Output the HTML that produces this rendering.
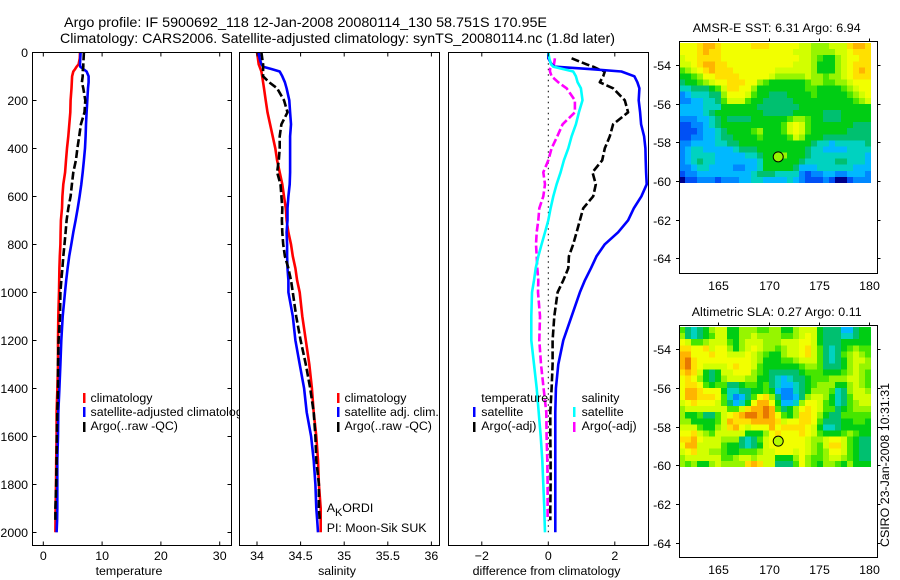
<!DOCTYPE html>
<html lang="en">
<head>
<meta charset="utf-8">
<title>Argo profile 5900692_118</title>
<style>
html,body{margin:0;padding:0;background:#fff;width:900px;height:580px;overflow:hidden}
svg{display:block}
text{font-family:"Liberation Sans",sans-serif;font-size:12.4px;fill:#000}
.t{font-size:14px}
.frame{fill:none;stroke:#000;stroke-width:1}
</style>
</head>
<body>
<svg id="chart" width="900" height="580" viewBox="0 0 900 580" xmlns="http://www.w3.org/2000/svg">
<defs><clipPath id="clip-p1"><rect x="0" y="0" width="239" height="580"/></clipPath></defs>
<text class="t" x="64" y="27" textLength="483" lengthAdjust="spacingAndGlyphs">Argo profile: IF 5900692_118 12-Jan-2008 20080114_130 58.751S 170.95E</text>
<text class="t" x="60" y="43" textLength="555" lengthAdjust="spacingAndGlyphs">Climatology: CARS2006. Satellite-adjusted climatology: synTS_20080114.nc (1.8d later)</text>
<g id="plots"></g>
<g id="maps"></g>
<g id="legends">
<g clip-path="url(#clip-p1)">
<rect x="83" y="393" width="2.5" height="10" fill="#f00"/>
<rect x="83" y="407" width="2.5" height="10" fill="#00f"/>
<rect x="83" y="422" width="2.5" height="10" fill="#000"/>
<text x="90.5" y="402">climatology</text>
<text x="90.5" y="416">satellite-adjusted climatology</text>
<text x="90.5" y="430">Argo(..raw -QC)</text>
</g>
<g>
<rect x="337" y="393" width="2.5" height="10" fill="#f00"/>
<rect x="337" y="407" width="2.5" height="10" fill="#00f"/>
<rect x="337" y="422" width="2.5" height="10" fill="#000"/>
<text x="344.5" y="402">climatology</text>
<text x="344.5" y="416">satellite adj. clim.</text>
<text x="344.5" y="430">Argo(..raw -QC)</text>
</g>
<g>
<text x="481.3" y="402">temperature</text>
<rect x="473" y="407" width="2.5" height="10" fill="#00f"/>
<rect x="473" y="422" width="2.5" height="10" fill="#000"/>
<text x="481.3" y="416">satellite</text>
<text x="481.3" y="430">Argo(-adj)</text>
<text x="581.6" y="402">salinity</text>
<rect x="573" y="407" width="2.5" height="10" fill="#0ff"/>
<rect x="573" y="422" width="2.5" height="10" fill="#f0f"/>
<text x="581.6" y="416">satellite</text>
<text x="581.6" y="430">Argo(-adj)</text>
</g>
</g>
<text x="326.7" y="512">A<tspan dy="4" font-size="11">K</tspan><tspan dy="-4">ORDI</tspan></text>
<text x="326.7" y="532">PI: Moon-Sik SUK</text>
<text transform="translate(889,547) rotate(-90)" textLength="164" lengthAdjust="spacingAndGlyphs">CSIRO 23-Jan-2008 10:31:31</text>
</svg>
<script>
var depths = [0,25,50,60,70,80,100,125,150,200,250,300,350,400,450,500,550,600,650,700,750,800,850,900,950,1000,1100,1200,1300,1400,1500,1600,1700,1800,1900,1950,2000];
var depthTicks = [0,200,400,600,800,1000,1200,1400,1600,1800,2000];

var tempTicks = [0,10,20,30];
var tempClim = [6.24,6.2,6.0,5.67,5.4,5.1,4.9,4.85,4.8,4.65,4.6,4.43,4.26,4.03,3.86,3.7,3.4,3.24,3.18,3.0,2.95,2.9,2.8,2.73,2.7,2.67,2.55,2.5,2.5,2.4,2.27,2.27,2.2,2.16,2.1,2.08,2.05];
var tempSat = [6.35,6.3,6.24,6.3,6.8,7.37,7.7,7.7,7.6,7.48,7.37,7.26,7.2,7.09,6.9,6.7,6.46,6.18,5.85,5.5,5.1,4.76,4.4,4.14,3.9,3.69,3.3,3.06,2.9,2.73,2.55,2.5,2.38,2.38,2.38,2.35,2.27];
var tempArgo = [6.9,6.85,6.8,6.8,6.75,6.7,6.7,6.57,6.8,7.15,7.0,6.4,6.1,5.8,5.55,5.1,4.87,4.65,4.25,3.97,3.8,3.6,3.4,3.24,3.06,2.9,2.84,2.6,2.5,2.5,2.38,2.3,2.27,2.2,2.05,2.05,null];

var salTicks = [34,34.5,35,35.5,36];
var salClim = [34.0,34.01,34.02,34.03,34.04,34.05,34.06,34.07,34.08,34.1,34.12,34.15,34.18,34.21,34.23,34.26,34.29,34.31,34.33,34.34,34.36,34.39,34.41,34.44,34.46,34.49,34.52,34.56,34.6,34.63,34.65,34.68,34.7,34.71,34.73,34.73,34.73];
var salSat = [34.02,34.03,34.05,34.07,34.17,34.26,34.29,34.32,34.34,34.37,34.38,34.39,34.38,34.38,34.38,34.38,34.375,34.36,34.35,34.35,34.34,34.345,34.345,34.35,34.36,34.36,34.41,34.44,34.49,34.54,34.57,34.62,34.65,34.67,34.68,34.69,34.7];
var salArgo = [34.05,34.06,34.07,34.07,34.07,34.07,34.07,34.14,34.23,34.31,34.35,34.28,34.26,34.26,34.25,34.23,34.27,34.28,34.29,34.285,34.29,34.3,34.32,34.36,34.39,34.41,34.45,34.5,34.56,34.61,34.65,34.67,34.68,34.71,34.71,34.72,null];

var diffTicks = [-2,0,2];
var diffTempSat = [0,0,0.1,0.2,1.25,2.2,2.59,2.68,2.74,2.72,2.76,2.79,2.88,2.92,2.93,2.94,2.96,2.8,2.57,2.4,2.1,1.7,1.45,1.28,1.1,0.95,0.7,0.45,0.3,0.23,0.21,0.21,0.21,0.21,0.21,0.21,0.21];
var diffTempArgo = [null,0.7,1.15,1.35,1.5,1.7,1.65,1.55,1.95,2.3,2.4,1.95,1.85,1.7,1.62,1.33,1.43,1.35,1.05,0.95,0.85,0.75,0.62,0.6,0.45,0.28,0.18,0.13,0.13,0.1,0.06,0.06,0.07,0.07,0.06,0.06,null];
var diffSalSat = [0,0.03,0.08,0.15,0.45,0.75,0.83,0.88,0.98,1.03,0.92,0.83,0.7,0.6,0.47,0.37,0.25,0.15,0.07,0,-0.1,-0.2,-0.3,-0.38,-0.43,-0.49,-0.51,-0.51,-0.43,-0.35,-0.29,-0.23,-0.18,-0.15,-0.12,-0.11,-0.1];
var diffSalArgo = [null,0.2,0.17,0.1,0.05,0.05,0.1,0.3,0.55,0.8,0.8,0.43,0.27,0.1,0,-0.15,-0.1,-0.15,-0.27,-0.3,-0.35,-0.37,-0.35,-0.33,-0.3,-0.31,-0.25,-0.27,-0.22,-0.14,-0.06,-0.05,-0.03,-0.02,-0.02,-0.02,null];
var zeroLine = [0,2000];

var lonTicks = [165,170,175,180];
var latTicks = [-54,-56,-58,-60,-62,-64];
var floatLon = 170.95;
var floatLat = -58.751;

var sstGrid = [
[10,10,10,11,12,12,11,10,10,10,10,10,11,11,11,10,10,10,10,10,9,9,8,8,8,9,9,9,11,12,12,11],
[10,10,10,11,12,11,11,10,10,10,10,10,10,10,10,10,10,10,10,9,9,9,8,8,8,8,9,9,10,11,11,11],
[9,10,10,11,11,11,11,10,10,10,10,10,10,10,10,10,10,10,10,10,9,9,8,7,6,6,8,9,10,10,11,11],
[9,9,10,11,12,12,11,11,10,10,10,10,10,10,10,10,10,10,10,9,9,9,8,6,6,6,8,9,10,11,11,11],
[7,8,9,10,11,12,11,11,11,10,10,10,10,10,10,10,9,9,9,9,9,9,8,6,6,6,8,9,10,11,12,11],
[6,6,7,8,10,10,11,11,11,11,10,10,10,10,10,9,8,8,8,8,8,9,8,8,7,8,8,9,10,11,11,11],
[5,6,6,7,8,9,10,10,11,11,11,10,10,8,7,6,6,6,6,6,6,7,8,8,7,7,8,8,9,10,10,10],
[4,4,5,5,5,6,7,9,11,11,10,10,8,6,6,6,6,6,6,6,6,7,7,6,6,6,6,7,8,9,10,10],
[2,3,4,4,4,5,5,8,10,10,10,9,7,6,6,5,5,5,6,6,6,6,7,6,6,6,6,6,7,8,9,10],
[2,2,3,3,4,4,5,7,9,9,9,7,6,6,5,5,5,5,5,6,6,6,6,6,6,6,6,6,6,7,8,9],
[3,3,3,3,4,4,4,6,6,6,6,6,6,5,5,5,5,5,5,5,6,6,6,6,6,6,6,6,6,6,6,6],
[3,3,3,3,4,5,6,6,6,6,6,6,6,6,5,5,5,5,5,6,6,6,6,6,5,5,5,6,6,6,6,6],
[2,2,2,3,3,4,5,6,5,5,5,5,6,6,6,6,6,6,7,8,8,7,6,6,5,5,5,6,6,6,6,6],
[1,1,2,2,3,4,5,6,6,6,6,6,6,6,6,6,6,7,9,10,9,7,6,6,6,6,6,6,6,5,5,5],
[1,1,1,2,3,3,4,5,6,6,6,6,7,8,6,6,6,7,9,10,9,7,6,6,6,6,6,6,5,5,5,5],
[1,1,2,2,3,3,4,5,5,6,6,6,6,7,6,6,6,6,7,9,8,6,6,6,5,5,5,5,5,5,5,5],
[2,2,3,3,3,3,4,4,5,5,6,6,6,6,6,6,6,6,6,6,6,6,5,4,4,3,4,4,4,4,4,5],
[2,3,4,4,3,3,3,3,3,4,5,5,5,6,6,6,6,6,6,6,6,5,4,4,3,3,3,3,4,4,4,4],
[2,3,4,4,4,4,3,3,3,3,3,4,4,5,6,6,7,8,6,6,6,5,4,4,4,4,4,4,4,4,4,3],
[2,3,4,5,4,4,3,3,3,3,3,3,3,4,6,6,6,6,6,6,5,4,4,4,4,4,5,5,4,4,4,3],
[2,2,3,4,4,3,3,3,3,2,2,3,3,4,6,6,6,6,6,5,3,3,3,4,4,4,4,4,4,3,3,3],
[1,2,2,3,3,3,3,3,3,3,3,3,4,5,5,5,4,4,4,4,2,1,2,2,3,3,2,2,3,3,3,2],
[0,1,1,2,2,2,1,2,2,2,3,3,4,4,3,3,3,3,4,3,2,1,1,1,2,1,0,0,1,2,2,2]
];
var slaGrid = [
[7,5,4,5,6,8,9,9,6,6,8,8,8,7,7,8,8,6,6,8,9,9,9,6,5,5,5,3,3,5,6,6],
[8,5,4,5,6,7,9,9,6,6,8,8,9,8,8,8,8,7,7,8,9,10,9,6,5,5,5,4,4,5,6,6],
[10,9,7,7,8,9,9,9,7,6,8,9,9,9,8,8,8,9,9,9,10,10,9,6,5,5,5,6,6,6,6,6],
[11,11,10,10,11,9,10,10,8,6,8,9,10,9,8,8,7,8,9,9,10,11,9,7,5,4,5,6,7,8,7,7],
[12,12,10,10,10,11,10,10,9,9,9,10,9,8,7,6,6,8,9,9,10,11,9,7,5,4,5,7,8,9,8,7],
[12,13,11,10,10,10,10,10,10,10,10,10,9,8,6,6,6,7,7,8,9,9,9,7,5,4,5,6,8,9,9,8],
[12,13,11,10,9,9,9,9,10,11,10,10,9,7,6,6,6,6,6,6,7,8,8,7,5,5,5,6,8,9,8,8],
[11,12,11,9,6,5,6,9,9,10,10,10,8,7,6,5,5,5,5,5,6,7,7,7,6,6,6,7,8,9,8,7],
[10,11,10,8,6,5,6,8,9,9,9,8,8,6,6,5,4,3,4,5,5,6,7,7,7,8,8,8,9,9,8,7],
[10,11,11,10,7,6,7,7,5,5,6,7,7,6,7,5,4,3,3,4,5,6,7,8,8,8,6,6,8,9,8,7],
[10,12,12,11,10,10,10,6,4,4,5,5,6,6,7,6,3,2,2,4,5,6,8,8,8,7,4,5,8,9,9,8],
[10,12,12,11,11,11,10,7,4,2,3,5,7,10,11,8,5,2,2,3,5,8,9,9,8,6,4,5,7,9,9,9],
[9,10,11,10,10,10,9,7,5,3,4,6,10,12,12,10,6,3,3,4,8,10,10,9,7,6,4,5,7,8,9,9],
[8,9,9,9,9,9,9,9,7,7,9,11,12,12,13,12,7,5,6,8,10,11,10,9,7,7,5,6,7,8,8,8],
[8,6,6,7,5,5,7,9,10,11,12,13,13,12,13,12,10,7,6,8,11,11,10,8,6,5,5,7,7,7,7,7],
[8,8,6,6,6,6,7,9,12,11,11,11,12,12,12,12,11,9,10,10,11,11,10,7,5,5,5,6,6,7,7,6],
[9,9,9,7,6,6,8,9,11,12,10,9,10,10,10,12,10,11,11,11,11,10,9,6,4,4,5,6,6,6,6,6],
[10,10,11,9,8,7,9,9,9,9,9,6,6,6,8,10,11,10,10,10,11,10,9,7,6,6,6,7,8,7,6,6],
[11,11,12,10,9,9,9,8,8,8,5,4,5,7,9,10,10,10,10,10,10,9,8,8,9,10,10,9,7,6,5,5],
[10,12,12,9,9,9,9,7,6,6,5,4,5,6,9,10,10,10,10,10,10,9,8,7,9,11,11,9,7,6,5,5],
[9,10,11,9,9,8,8,7,6,6,7,7,7,8,9,9,10,10,10,9,10,9,8,7,8,10,10,9,7,6,5,5],
[8,9,9,9,9,9,9,7,7,8,9,9,8,9,9,9,6,6,6,8,10,8,7,7,8,9,9,8,7,6,5,5],
[8,7,8,6,6,8,9,8,8,8,8,11,12,11,9,9,5,5,5,7,10,8,7,6,8,8,7,6,8,6,6,6]
];
var levelColors = ['#00008c','#0050f5','#0088ff','#00b8ff','#00d2c0','#00c070','#00cd14','#46e600','#96f500','#d2ff00','#f2ff00','#ffe000','#ffb400','#e87800'];

var NS = 'http://www.w3.org/2000/svg';
function node(parent, tag, name, attrs) {
  var el = document.createElementNS(NS, tag);
  
  
  for (var k in attrs) el.setAttribute(k, attrs[k]);
  parent.appendChild(el);
  return el;
}
function label(parent, name, x, y, str, anchor) {
  var el = node(parent, 'text', name, {x: x, y: y, 'text-anchor': anchor || 'middle'});
  el.textContent = str;
  return el;
}
function depthY(d) { return 52.3 + 0.24 * d; }

function profile(parent, name, values, xf, color, dash, width) {
  var pts = [];
  for (var i = 0; i < depths.length; i++) {
    if (values[i] === null || values[i] === undefined) continue;
    pts.push(xf(values[i]).toFixed(1) + ',' + depthY(depths[i]).toFixed(1));
  }
  var a = {points: pts.join(' '), fill: 'none', stroke: color, 'stroke-width': width || 2.6, 'stroke-linejoin': 'round'};
  if (dash) a['stroke-dasharray'] = dash;
  node(parent, 'polyline', name, a);
}

function panel(cfg) {
  var g = node(document.getElementById('plots'), 'g', cfg.name, {});
  node(g, 'rect', cfg.name + '-background', {x: cfg.x0, y: 52.5, width: cfg.x1 - cfg.x0, height: 493, fill: '#fff', stroke: 'none'});
  cfg.draw(g);
  node(g, 'rect', cfg.name + '-frame', {x: cfg.x0, y: 52.5, width: cfg.x1 - cfg.x0, height: 493, 'class': 'frame'});
  cfg.ticks.forEach(function (t) {
    var x = cfg.xf(t);
    node(g, 'line', 'x-tick-top', {x1: x, x2: x, y1: 52.5, y2: 56.5, stroke: '#000'});
    node(g, 'line', 'x-tick-bottom', {x1: x, x2: x, y1: 541.5, y2: 545.5, stroke: '#000'});
    label(g, 'x-tick-label', x, 560, String(t).replace('-', '\u2212'));
  });
  label(g, 'x-axis-title', cfg.titleX, 575, cfg.title);
}

var xTemp = function (t) { return 43.3 + 5.88 * t; };
var xSal = function (s) { return 257 + 87.2 * (s - 34); };
var xDiff = function (d) { return 548.3 + 33.25 * d; };

panel({name: 'temperature-panel', x0: 32.5, x1: 231.5, xf: xTemp, ticks: tempTicks, title: 'temperature', titleX: 129, draw: function (g) {
  profile(g, 'temperature-climatology-line', tempClim, xTemp, '#f00');
  profile(g, 'temperature-satellite-line', tempSat, xTemp, '#00f');
  profile(g, 'temperature-argo-line', tempArgo, xTemp, '#000', '8 3');
  depthTicks.forEach(function (d) {
    var y = Math.round(depthY(d)) + 0.5;
    node(g, 'line', 'y-tick-left', {x1: 32.5, x2: 36.5, y1: y, y2: y, stroke: '#000'});
    node(g, 'line', 'y-tick-right', {x1: 227.5, x2: 231.5, y1: y, y2: y, stroke: '#000'});
    label(g, 'y-tick-label', 28, y + 4.5, String(d), 'end');
  });
}});
panel({name: 'salinity-panel', x0: 239.5, x1: 439.5, xf: xSal, ticks: salTicks, title: 'salinity', titleX: 337, draw: function (g) {
  profile(g, 'salinity-climatology-line', salClim, xSal, '#f00');
  profile(g, 'salinity-satellite-line', salSat, xSal, '#00f');
  profile(g, 'salinity-argo-line', salArgo, xSal, '#000', '8 3');
}});
panel({name: 'difference-panel', x0: 448.5, x1: 648.5, xf: xDiff, ticks: diffTicks, title: 'difference from climatology', titleX: 546.5, draw: function (g) {
  var zx = xDiff(0);
  node(g, 'line', 'zero-reference-line', {x1: zx, x2: zx, y1: depthY(zeroLine[0]), y2: depthY(zeroLine[1]), stroke: '#000', 'stroke-dasharray': '1.5 4'});
  profile(g, 'difference-salinity-argo-line', diffSalArgo, xDiff, '#f0f', '8 3');
  profile(g, 'difference-temperature-argo-line', diffTempArgo, xDiff, '#000', '8 3');
  profile(g, 'difference-temperature-satellite-line', diffTempSat, xDiff, '#00f');
  profile(g, 'difference-salinity-satellite-line', diffSalSat, xDiff, '#0ff');
}});

function mapPanel(cfg) {
  var g = node(document.getElementById('maps'), 'g', cfg.name, {});
  var lonX = function (lon) { return 718.3 + 10.07 * (lon - 165); };
  var latY = function (lat) { return cfg.y54 + 19.33 * (-54 - lat); };
  var dLon = 6 / 10.07, dLat = 6.087 / 19.33, lon0 = 161.1, lat0 = -54 + (cfg.y54 - cfg.imgTop) / 19.33;
  cfg.grid.forEach(function (row, r) {
    row.forEach(function (v, c) {
      var x = lonX(lon0 + c * dLon), y = latY(lat0 - r * dLat);
      node(g, 'rect', 'heatmap-cell', {x: x.toFixed(2), y: y.toFixed(2), width: 6.05, height: 6.3, fill: levelColors[v], 'shape-rendering': 'crispEdges'});
    });
  });
  node(g, 'rect', cfg.name + '-frame', {x: 679.5, y: cfg.top, width: 198, height: cfg.bottom - cfg.top, 'class': 'frame'});
  lonTicks.forEach(function (lon) {
    var x = Math.round(lonX(lon)) + 0.5;
    node(g, 'line', 'lon-tick', {x1: x, x2: x, y1: cfg.top - 3, y2: cfg.top, stroke: '#000'});
    label(g, 'lon-tick-label', x, cfg.labelY, String(lon));
  });
  latTicks.forEach(function (lat) {
    var y = Math.round(latY(lat)) + 0.5;
    node(g, 'line', 'lat-tick-left', {x1: 676, x2: 679.5, y1: y, y2: y, stroke: '#000'});
    node(g, 'line', 'lat-tick-right', {x1: 877.5, x2: 880.5, y1: y, y2: y, stroke: '#000'});
    label(g, 'lat-tick-label', 671, y + 4.5, String(lat), 'end');
  });
  node(g, 'circle', 'float-position-marker', {cx: lonX(floatLon), cy: latY(floatLat), r: 5, fill: cfg.marker, stroke: '#000', 'stroke-width': 1});
  var title = label(g, 'map-title', 776.7, cfg.titleY, cfg.title);
  title.setAttribute('textLength', cfg.titleWidth);
  title.setAttribute('lengthAdjust', 'spacing');
}
mapPanel({name: 'sst-map', grid: sstGrid, top: 41.5, bottom: 273.5, y54: 65, imgTop: 43, labelY: 290, titleY: 32, title: 'AMSR-E SST: 6.31 Argo: 6.94', titleWidth: 168, marker: '#96f500'});
mapPanel({name: 'sla-map', grid: slaGrid, top: 325.5, bottom: 557.5, y54: 349.3, imgTop: 327, labelY: 574, titleY: 316, title: 'Altimetric SLA: 0.27 Argo: 0.11', titleWidth: 170, marker: '#b4fa00'});
</script>
</body>
</html>
